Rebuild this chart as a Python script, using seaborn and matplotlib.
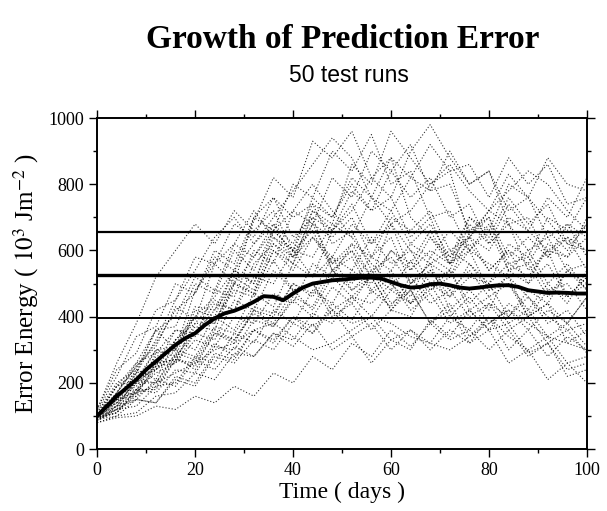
import numpy as np
import pandas as pd
import matplotlib
matplotlib.use("Agg")
import matplotlib.pyplot as plt
from matplotlib.ticker import MultipleLocator
import seaborn as sns

# ---------------- data ----------------
run_days = list(range(0, 101, 4))
runs = [
    [100,170,250,320,420,470,580,540,690,820,760,930,880,960,820,880,700,640,560,650,720,830,760,690,620,600],
    [95,140,180,230,260,330,310,400,380,470,440,560,520,620,580,700,660,720,600,560,500,560,520,600,580,640],
    [110,190,260,360,300,480,560,500,700,760,640,700,540,600,520,680,720,800,860,780,720,680,600,640,540,560],
    [90,120,150,140,210,190,280,260,330,300,380,350,420,380,400,330,360,300,360,320,400,340,300,340,260,280],
    [105,170,250,310,430,390,560,620,720,640,600,520,660,720,820,760,900,980,880,800,840,680,700,580,640,600],
    [100,130,210,240,330,300,400,360,470,430,560,520,580,480,520,420,500,560,520,640,600,700,660,760,700,820],
    [85,130,150,210,190,270,240,310,280,350,310,380,300,340,260,330,300,390,340,420,360,380,290,320,220,240],
    [120,260,380,520,600,680,620,720,660,720,600,660,540,580,470,520,460,580,540,680,620,740,660,600,640,540],
    [100,150,240,210,330,380,450,420,560,620,560,720,680,860,800,960,880,800,840,640,700,540,560,460,540,500],
    [95,160,170,250,260,350,330,450,420,540,480,500,400,440,360,420,400,500,460,560,480,500,400,440,380,460],
    [110,200,240,360,400,520,480,620,580,680,620,740,700,800,720,760,640,700,560,620,540,600,560,660,600,680],
    [90,110,170,190,270,260,350,330,420,400,500,470,580,540,640,560,600,500,540,420,460,380,420,340,380,310],
    [100,160,190,280,300,400,380,520,480,620,580,700,660,740,620,680,540,600,560,700,660,800,760,880,800,780],
    [80,100,110,160,170,230,210,290,280,350,330,410,380,460,440,500,420,470,380,420,360,440,400,480,460,520],
    [115,220,340,370,500,470,600,560,700,660,800,760,900,840,950,800,840,700,720,600,660,540,600,500,560,480],
    [100,150,220,240,300,280,370,350,430,410,500,460,540,500,580,540,620,580,660,600,680,560,580,480,500,420],
    [95,150,170,290,300,430,420,540,500,640,580,680,560,600,480,540,440,500,400,460,380,420,360,420,380,460],
    [105,170,260,290,360,350,440,420,520,500,600,580,680,640,760,720,820,780,900,800,840,720,760,640,680,580],
    [90,100,150,140,220,200,290,270,360,330,400,370,420,340,380,300,360,320,400,360,440,400,460,380,420,340],
    [100,190,210,300,310,400,390,480,460,570,480,500,420,460,400,480,440,540,480,540,460,500,420,500,440,540],
    [110,140,230,250,360,340,480,460,600,560,720,680,820,760,900,840,920,780,800,660,700,580,640,580,680,640],
    [95,110,180,180,270,250,350,320,420,380,480,420,520,460,520,420,480,380,440,340,400,300,360,280,340,300],
    [100,170,180,260,270,370,360,500,470,600,560,680,640,700,580,640,500,560,420,480,420,540,500,620,580,700],
    [85,120,130,190,200,280,260,350,320,420,380,480,440,540,500,600,560,660,560,600,480,520,400,440,320,360],
    [120,240,290,420,450,580,560,680,640,760,700,740,620,660,540,580,500,540,460,520,500,620,580,700,660,760],
    [100,120,200,200,290,270,360,330,410,370,450,400,490,440,530,480,570,480,540,440,500,400,480,440,540,480],
    [90,150,160,260,270,380,380,500,470,600,540,640,580,680,620,720,620,680,580,640,540,600,500,560,460,520],
    [105,130,210,200,280,240,320,280,360,320,400,350,440,390,480,430,520,440,480,400,440,360,400,320,360,290],
    [100,190,230,360,370,500,470,600,540,660,600,720,660,780,720,840,760,820,700,740,620,680,540,600,460,500],
    [95,110,180,170,240,230,310,300,390,370,460,430,540,480,540,440,480,380,420,320,360,260,300,210,260,200],
    [80,95,100,130,120,160,140,190,160,230,200,280,240,320,280,360,310,380,330,360,300,360,280,320,240,260],
    [100,160,200,300,280,420,400,540,500,660,600,760,700,820,760,880,820,920,840,860,760,880,800,860,740,760],
    [100,150,230,330,450,540,640,700,620,680,580,640,560,620,520,600,540,640,580,700,640,760,680,740,620,680],
    [90,130,170,240,280,350,420,500,580,660,720,800,720,640,560,500,440,480,520,600,560,520,460,400,360,380],
    [105,140,200,250,330,400,460,540,620,700,780,860,940,880,760,680,600,560,600,640,720,780,840,800,720,660],
    [95,120,160,200,230,260,300,320,360,380,340,300,320,360,400,380,340,320,300,340,380,420,380,340,320,300],
]

mean_days = list(range(0, 101, 2))
mean_vals = [100,130,160,185,210,240,265,290,315,335,350,375,395,410,418,430,445,462,460,450,
             470,488,500,505,510,512,515,518,518,515,505,495,488,490,498,500,495,488,485,488,
             492,495,495,490,480,476,472,473,472,470,470]

ref_levels = [657, 527, 397]
ref_widths = [1.6, 2.4, 1.4]

title = "Growth of Prediction Error"
subtitle = "50 test runs"
xlabel = "Time ( days )"
ylabel = "Error Energy ( $10^3$ Jm$^{-2}$ )"

# ---------------- table ----------------
rows = []
for i, r in enumerate(runs):
    for d, v in zip(run_days, r):
        rows.append({"run": i, "day": d, "energy": v})
runs_df = pd.DataFrame(rows)
mean_df = pd.DataFrame({"day": mean_days, "energy": mean_vals})

# ---------------- style ----------------
sns.set_theme(style="ticks")
plt.rcParams["font.family"] = ["Liberation Serif", "DejaVu Serif"]
plt.rcParams["mathtext.fontset"] = "stix"

fig = plt.figure(figsize=(6.07, 5.11), dpi=100)
ax = fig.add_axes([0.160, 0.121, 0.807, 0.648])

sns.lineplot(data=runs_df, x="day", y="energy", units="run", estimator=None,
             color="black", linewidth=0.8, alpha=0.8, ax=ax,
             linestyle=(0, (1.0, 1.8)), legend=False)

for lvl, lw in zip(ref_levels, ref_widths):
    ax.axhline(lvl, color="black", linewidth=lw, zorder=3)

sns.lineplot(data=mean_df, x="day", y="energy", color="black", linewidth=2.8,
             ax=ax, zorder=4)

ax.set_xlim(0, 100)
ax.set_ylim(0, 1000)
ax.xaxis.set_major_locator(MultipleLocator(20))
ax.xaxis.set_minor_locator(MultipleLocator(10))
ax.yaxis.set_major_locator(MultipleLocator(200))
ax.yaxis.set_minor_locator(MultipleLocator(100))
ax.tick_params(which="both", direction="out", top=True, right=True,
               color="black", width=1.0, labelsize=13, labelcolor="black")
ax.tick_params(which="major", length=6)
ax.tick_params(which="minor", length=3)
for s in ax.spines.values():
    s.set_color("black")
    s.set_linewidth(1.4)

ax.set_xlabel(xlabel, fontsize=17, color="black", labelpad=2)
ax.set_ylabel(ylabel, fontsize=18, color="black", labelpad=5)

fig.text(0.565, 0.922, title, ha="center", va="center", fontsize=24,
         fontweight="bold", color="black")
fig.text(0.575, 0.852, subtitle, ha="center", va="center", fontsize=16.5,
         family=["Liberation Sans", "DejaVu Sans"], color="black")

fig.savefig("out.png", dpi=100, facecolor="white")
